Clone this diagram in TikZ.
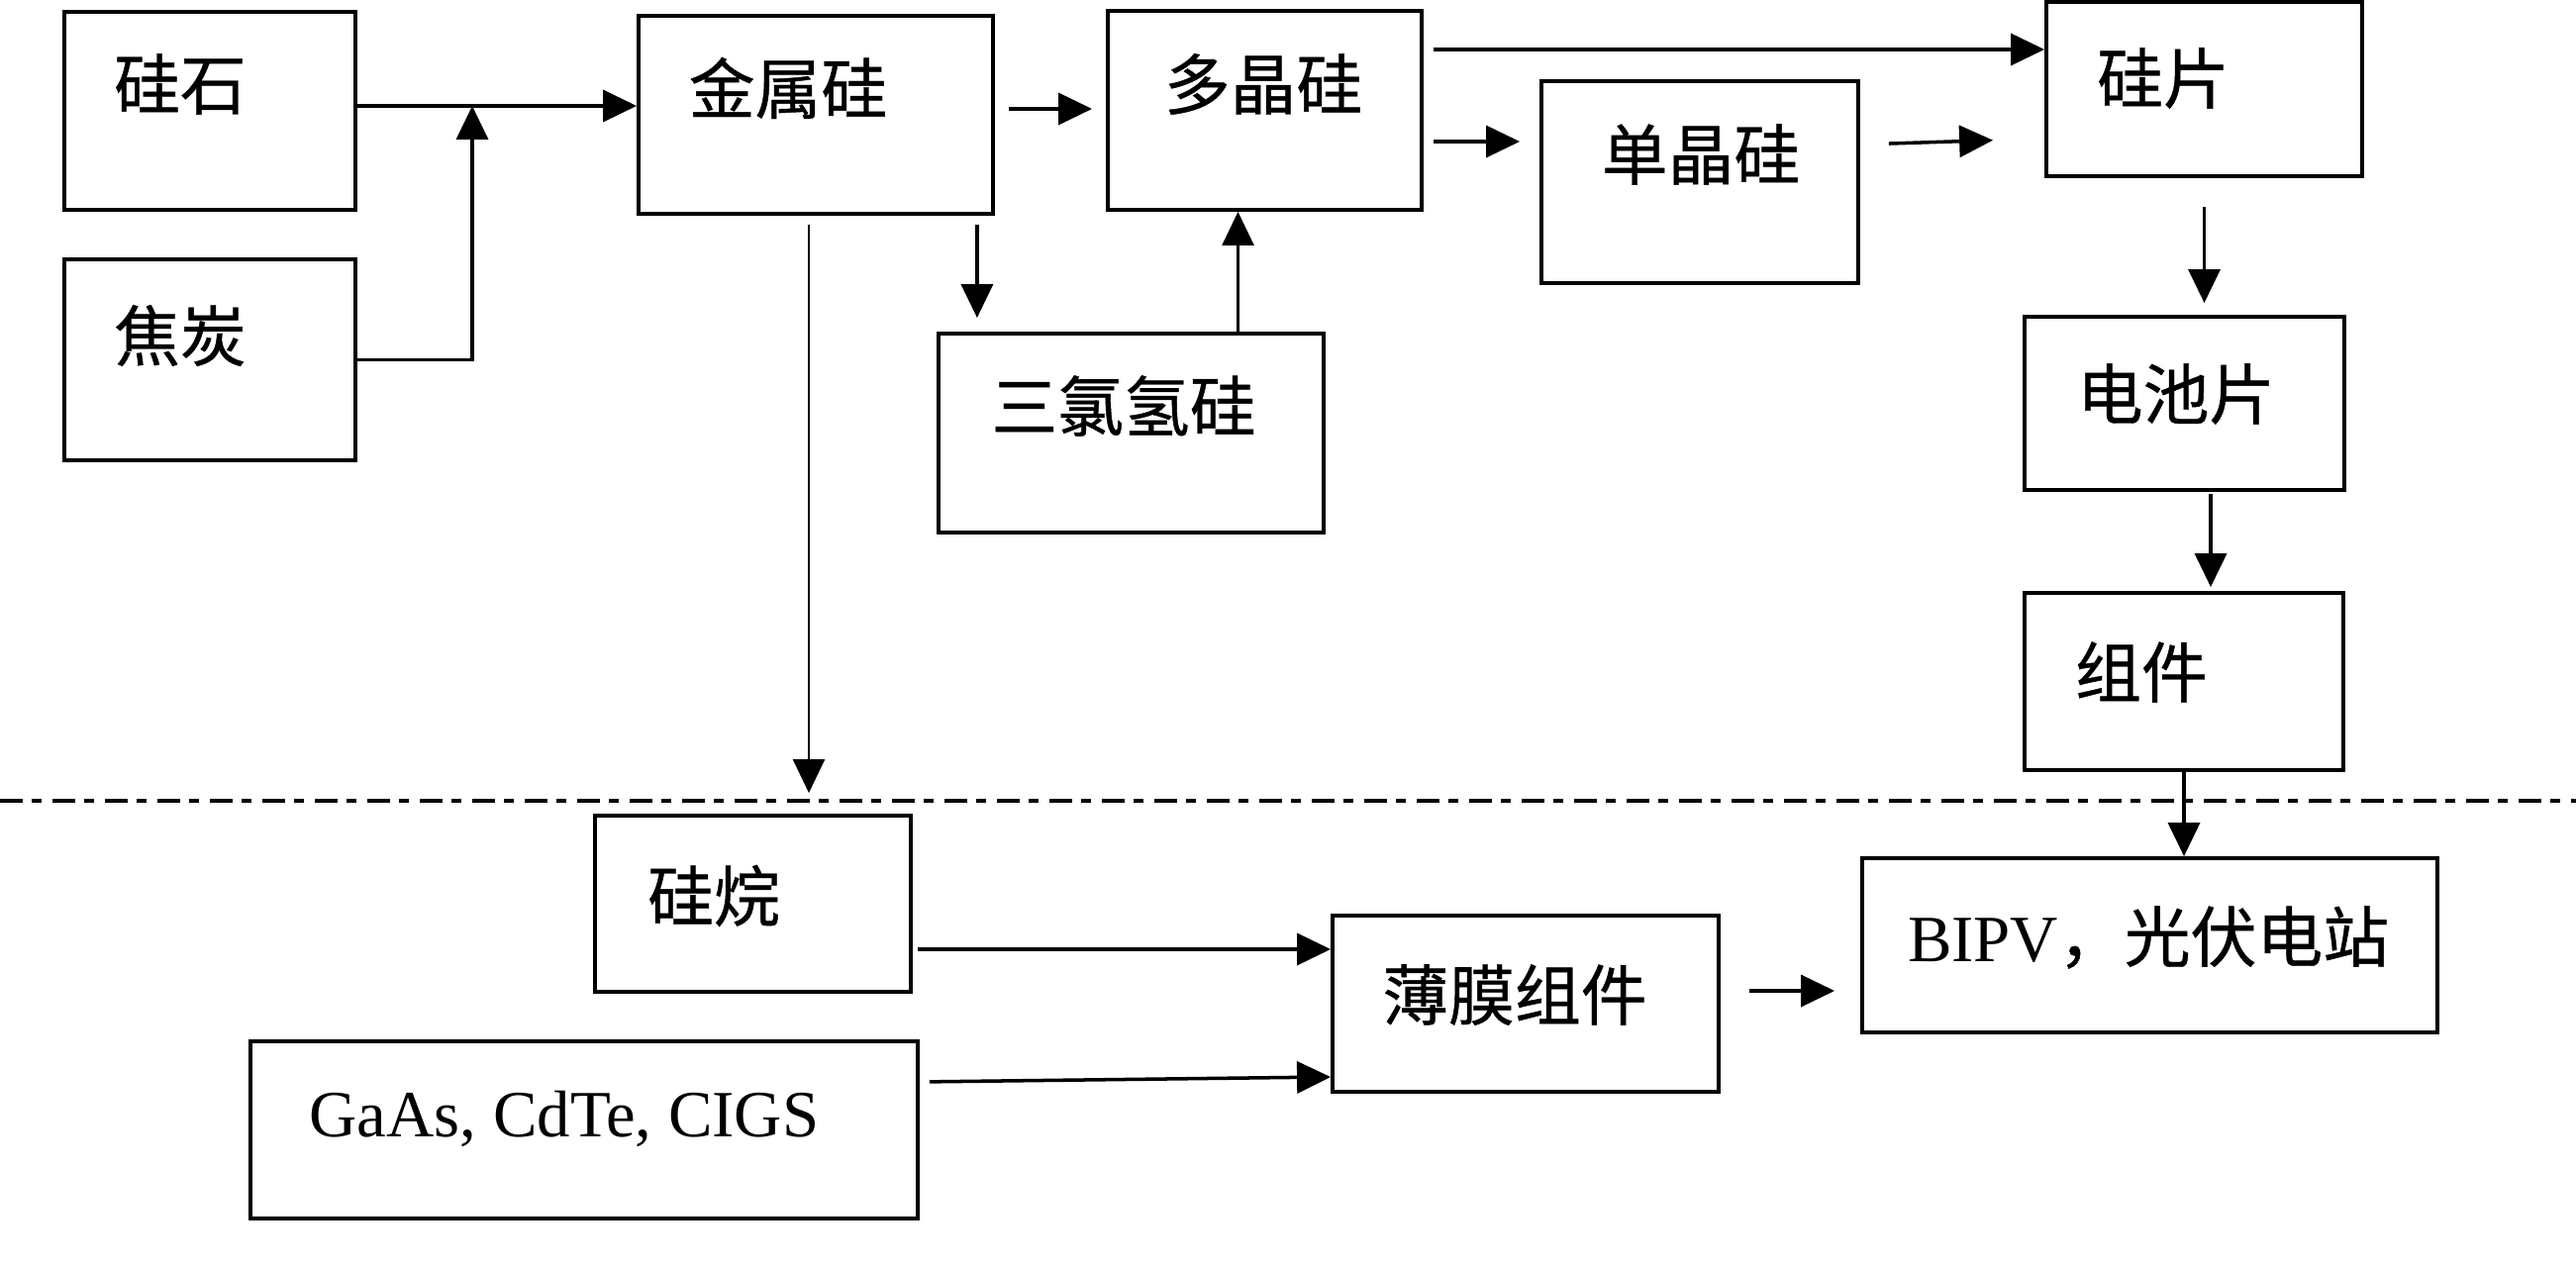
\documentclass[tikz,border=0pt]{standalone}
\usepackage{fontspec}
\setmainfont{Liberation Serif}
\newfontfamily\cjk[FakeBold=0.6]{Noto Sans CJK SC}
\usepackage{tikz}
\usetikzlibrary{arrows.meta}

\tikzset{
  box/.style={rectangle, draw, line width=1.1pt, inner sep=0pt},
  txt/.style={inner sep=0pt, font=\cjk\fontsize{19}{22}\selectfont},
  arr/.style={-{Triangle[length=0.34cm,width=0.32cm]}, line width=1pt},
  thinarr/.style={-{Triangle[length=0.34cm,width=0.32cm]}, line width=0.7pt}
}

\begin{document}
\begin{tikzpicture}
\useasboundingbox (0,0) rectangle (26.02,-12.80);

\node (gs) at (2.12,-1.12) [box, minimum width=2.94cm, minimum height=2cm] {};
\node (gst) at (1.82,-0.85) [txt] {硅石};

\node (jt) at (2.12,-3.635) [box, minimum width=2.94cm, minimum height=2.03cm] {};
\node (jtt) at (1.82,-3.39) [txt] {焦炭};

\node (jss) at (8.24,-1.16) [box, minimum width=3.58cm, minimum height=2cm] {};
\node (jsst) at (7.96,-0.89) [txt] {金属硅};

\node (djg) at (12.775,-1.115) [box, minimum width=3.17cm, minimum height=2.01cm] {};
\node (djgt) at (12.76,-0.85) [txt] {多晶硅};

\node (sql) at (11.425,-4.375) [box, minimum width=3.89cm, minimum height=2.01cm] {};
\node (sqlt) at (11.35,-4.10) [txt] {三氯氢硅};

\node (djgs) at (17.17,-1.84) [box, minimum width=3.2cm, minimum height=2.04cm] {};
\node (djgst) at (17.18,-1.56) [txt] {单晶硅};

\node (gp) at (22.265,-0.90) [box, minimum width=3.19cm, minimum height=1.76cm] {};
\node (gpt) at (21.85,-0.79) [txt] {硅片};

\node (dcp) at (22.065,-4.075) [box, minimum width=3.23cm, minimum height=1.75cm] {};
\node (dcpt) at (21.98,-3.98) [txt] {电池片};

\node (zj) at (22.06,-6.885) [box, minimum width=3.22cm, minimum height=1.79cm] {};
\node (zjt) at (21.63,-6.79) [txt] {组件};

\node (sw) at (7.605,-9.13) [box, minimum width=3.19cm, minimum height=1.78cm] {};
\node (swt) at (7.21,-9.05) [txt] {硅烷};

\node (ga) at (5.90,-11.415) [box, minimum width=6.74cm, minimum height=1.79cm] {};
\node (gat) at (5.70,-11.30) [inner sep=0pt, font=\fontsize{19}{22}\selectfont] {GaAs, CdTe, CIGS};

\node (bm) at (15.41,-10.14) [box, minimum width=3.9cm, minimum height=1.78cm] {};
\node (bmt) at (15.30,-10.05) [txt] {薄膜组件};

\node (bipv) at (21.715,-9.55) [box, minimum width=5.81cm, minimum height=1.76cm] {};
\node (bipvt) at (21.70,-9.47) [inner sep=0pt, font=\fontsize{19}{22}\selectfont] {BIPV{\cjk ，光伏电站}};

\coordinate (jn) at (4.77,-1.07);
\coordinate (dl) at (0,-8.09);
\coordinate (dr) at (26.02,-8.09);

\draw[arr] ([yshift=0.05cm]gs.east) -- ([yshift=0.05cm]gs.east -| jss.west);
\draw[arr] (jt.east) -| (jn);
\draw[arr, shorten <=0.14cm, shorten >=0.14cm] ([yshift=0.06cm]jss.east) -- ([yshift=0.06cm]jss.east -| djg.west);
\draw[arr, shorten <=0.09cm, shorten >=0.14cm] ([xshift=-0.18cm]jss.south east) -- ([xshift=-0.18cm]jss.south east |- sql.north);
\draw[thinarr, shorten <=0.09cm, shorten >=0.21cm] ([xshift=-0.07cm]jss.south) -- ([xshift=-0.07cm]jss.south |- sw.north);
\draw[thinarr] ([xshift=-0.27cm]djg.south |- sql.north) -- ([xshift=-0.27cm]djg.south);
\draw[arr, shorten <=0.1cm] ([yshift=0.615cm]djg.east) -- ([yshift=0.615cm]djg.east -| gp.west);
\draw[arr, shorten <=0.1cm, shorten >=0.2cm] ([yshift=-0.315cm]djg.east) -- ([yshift=-0.315cm]djg.east -| djgs.west);
\draw[arr, shorten <=0.29cm, shorten >=0.52cm] ([yshift=0.38cm]djgs.east) -- ([yshift=-0.5cm]gp.west);
\draw[arr, shorten <=0.29cm, shorten >=0.12cm] (gp.south) -- (gp.south |- dcp.north);
\draw[arr, shorten <=0.02cm, shorten >=0.04cm] ([xshift=0.265cm]dcp.south) -- ([xshift=0.265cm]dcp.south |- zj.north);
\draw[arr] (zj.south) -- (zj.south |- bipv.north);
\draw[arr, shorten <=0.05cm] ([yshift=-0.46cm]sw.east) -- ([yshift=-0.46cm]sw.east -| bm.west);
\draw[arr, shorten <=0.1cm] ([yshift=0.485cm]ga.east) -- ([yshift=-0.74cm]bm.west);
\draw[arr, shorten <=0.29cm, shorten >=0.26cm] ([yshift=0.13cm]bm.east) -- ([yshift=0.13cm]bm.east -| bipv.west);

\draw[line width=1.2pt, dash pattern=on 0.23cm off 0.09cm on 0.1cm off 0.11cm] (dl) -- (dr);
\end{tikzpicture}
\end{document}
